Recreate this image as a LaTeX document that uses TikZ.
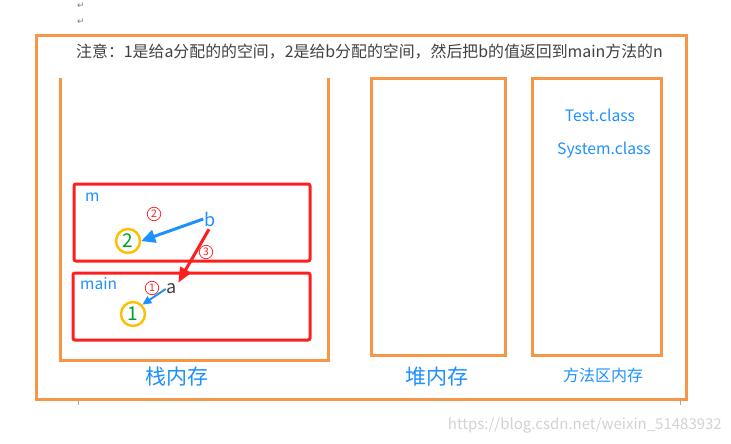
\documentclass[tikz,border=0pt]{standalone}
\usepackage{fontspec}
\setmainfont{Noto Sans CJK SC}
\newfontfamily\symfont{DejaVu Sans}
\usetikzlibrary{arrows.meta}
\definecolor{boxorange}{RGB}{247,150,70}
\definecolor{boxred}{RGB}{255,30,30}
\definecolor{txtblue}{RGB}{30,144,255}
\definecolor{ringgold}{RGB}{255,190,0}
\definecolor{digitgreen}{RGB}{0,160,40}
\tikzset{
  areabox/.style={draw=boxorange,line width=3pt},
  framebox/.style={draw=boxred,line width=3pt,rounded corners=2pt},
  bluetxt/.style={text=txtblue,inner sep=1pt},
  redmark/.style={shape=circle,draw=boxred,line width=0.7pt,minimum size=13.5pt,inner sep=0pt,
    text=boxred,font=\fontsize{10.5}{10.5}\selectfont},
  ring/.style={shape=circle,draw=ringgold,line width=2.4pt,minimum size=24pt,inner sep=0pt,
    text=digitgreen,font=\fontsize{19}{19}\selectfont},
  bluearrow/.style={draw=txtblue,line width=3pt,-{Triangle[length=14pt,width=13pt]}},
  redarrow/.style={draw=boxred,line width=3pt,-{Triangle[length=15pt,width=12pt]}}
}
\begin{document}
\begin{tikzpicture}[x=1pt,y=-1pt]
            \useasboundingbox (0,0) rectangle (731,444);
            % word marks
            \node[text=gray,font=\symfont\fontsize{9}{9}\selectfont] (mark1) at (81,6) {↵};
            \node[text=gray,font=\symfont\fontsize{9}{9}\selectfont] (mark2) at (81,22) {↵};
            \draw[gray!70,line width=0.6pt] (78,399) -- (78,405);
            \draw[gray!70,line width=0.6pt] (680,399) -- (680,405);
            % outer frame and note
            \draw[areabox] (36,36) rectangle (686,399);
            \node[anchor=west,text=black!75,inner sep=0pt,font=\fontsize{15.9}{15.9}\selectfont] (note) at (76,52)
                {注意：1是给a分配的的空间，2是给b分配的空间，然后把b的值返回到main方法的n};
            % three memory areas
            \draw[areabox] (60,78) -- (60,360) -- (328,360) -- (328,78);
            \draw[areabox] (371,79) rectangle (505,355);
            \draw[areabox] (532,79) rectangle (661,355);
            \node[bluetxt,font=\fontsize{21}{21}\selectfont] (stack) at (177,377) {栈内存};
            \node[bluetxt,font=\fontsize{21}{21}\selectfont] (heap) at (437,377) {堆内存};
            \node[bluetxt,font=\fontsize{16}{16}\selectfont] (method) at (603,375) {方法区内存};
            \node[bluetxt,font=\fontsize{15.7}{15.7}\selectfont] (test) at (600,115) {Test.class};
            \node[bluetxt,font=\fontsize{15.7}{15.7}\selectfont] (system) at (604,150) {System.class};
            % stack frames
            \draw[framebox] (74,184) rectangle (310,261);
            \draw[framebox] (73,273) rectangle (310,340);
            \node[bluetxt,anchor=west,font=\fontsize{15.5}{15.5}\selectfont] (m) at (84,197) {m};
            \node[bluetxt,anchor=west,font=\fontsize{15.5}{15.5}\selectfont] (main) at (79,284) {main};
            \node[bluetxt,font=\fontsize{18}{18}\selectfont] (b) at (210,219) {b};
            \node[text=black!75,inner sep=1pt,font=\fontsize{18}{18}\selectfont] (a) at (172,289) {a};
            \node[ring] (c2) at (128,241) {2};
            \node[ring] (c1) at (133,314) {1};
            \node[redmark] (n2) at (154,214) {2};
            \node[redmark] (n3) at (206,252) {3};
            \node[redmark] (n1) at (152,288) {1};
            \draw[bluearrow] (b.west) -- (c2.east);
            \draw[redarrow,shorten <=2pt] (b.south) -- (a.north east);
            \draw[bluearrow,line width=2pt,-{Triangle[length=9pt,width=8pt]}] (a.west) -- (c1.north east);
            % watermark
            \node[anchor=east,text=gray!35,inner sep=0pt,font=\fontsize{15}{15}\selectfont] (url) at (722,425)
                {https://blog.csdn.net/weixin\_51483932};
        \end{tikzpicture}
\end{document}
